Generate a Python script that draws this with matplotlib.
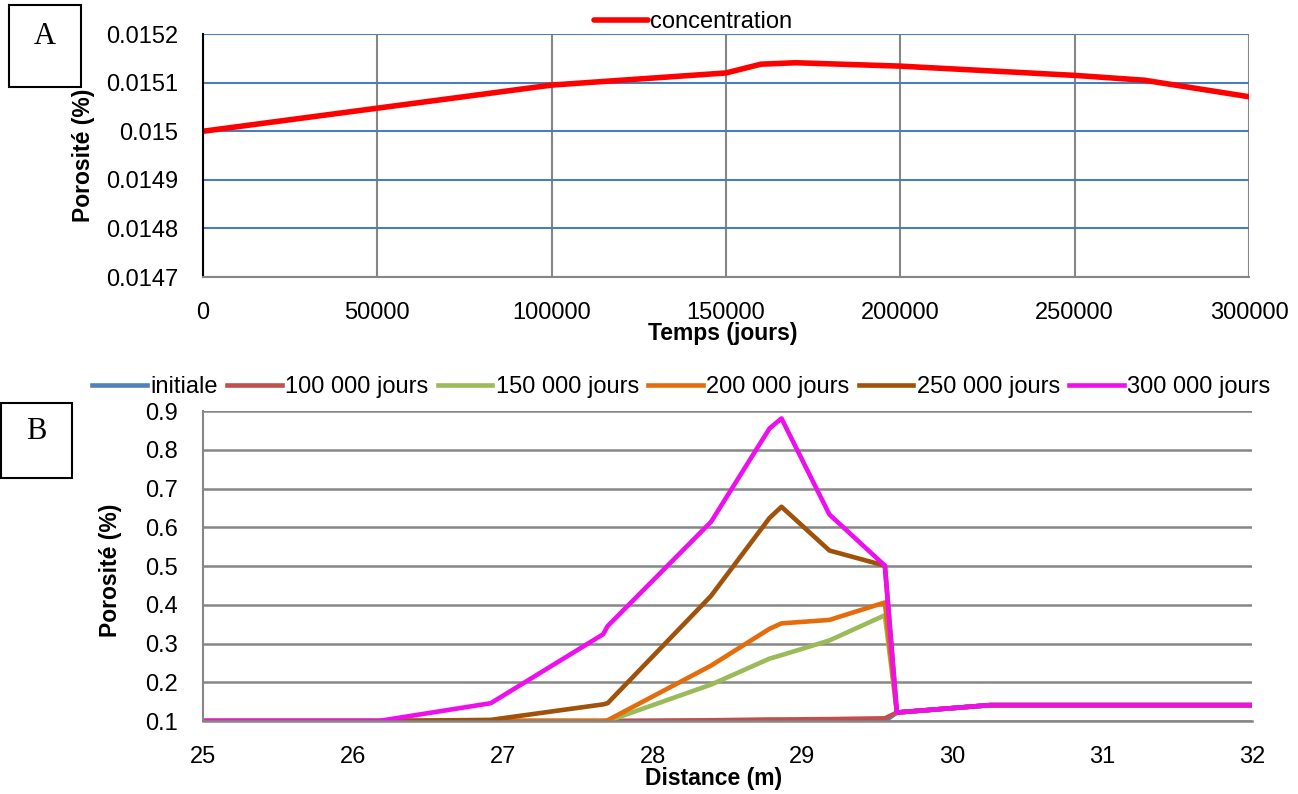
import numpy as np
import matplotlib
matplotlib.use('Agg')
import matplotlib.pyplot as plt
from matplotlib.ticker import FuncFormatter
from matplotlib.patches import Rectangle

plt.rcParams['font.family'] = ['Liberation Sans', 'DejaVu Sans']

# Panel A : porosity vs time
temps = [0, 100000, 150000, 160000, 170000, 200000, 250000, 270000, 300000]
porosite_a = [0.01500, 0.015095, 0.01512, 0.015138, 0.015141, 0.015134, 0.015115, 0.015105, 0.015071]

# Panel B : porosity profiles vs distance
distance = [25, 26.17, 26.92, 27.67, 27.70, 28.39, 28.78, 28.86, 29.18, 29.55, 29.63, 30.25, 32]
initiale = [0.1, 0.1, 0.1, 0.1, 0.1, 0.1, 0.1, 0.1, 0.1, 0.1, 0.122, 0.141, 0.141]
j100000 = [0.1, 0.1, 0.1, 0.1, 0.1, 0.102, 0.104, 0.104, 0.105, 0.107, 0.122, 0.141, 0.141]
j150000 = [0.1, 0.1, 0.1, 0.1, 0.1, 0.194, 0.261, 0.270, 0.308, 0.373, 0.122, 0.141, 0.141]
j200000 = [0.1, 0.1, 0.1, 0.1, 0.102, 0.243, 0.338, 0.352, 0.361, 0.406, 0.122, 0.141, 0.141]
j250000 = [0.1, 0.1, 0.103, 0.143, 0.146, 0.423, 0.624, 0.653, 0.540, 0.501, 0.122, 0.141, 0.141]
j300000 = [0.1, 0.1, 0.146, 0.324, 0.345, 0.614, 0.855, 0.881, 0.633, 0.501, 0.122, 0.141, 0.141]

series_b = [initiale, j100000, j150000, j200000, j250000, j300000]
labels_b = ['initiale', '100 000 jours', '150 000 jours', '200 000 jours', '250 000 jours', '300 000 jours']
colors_b = ['#4F81BD', '#C0504D', '#9BBB59', '#E46C0A', '#A0510A', '#EE0EEE']

fig = plt.figure(figsize=(12.98, 7.94), dpi=100)
fs = 16.5
grey = '#868686'

# ---- panel A
ax1 = fig.add_axes([0.1564, 0.6511, 0.8059, 0.3060])
ax1.plot(temps, porosite_a, color='#FF0000', lw=4, label='concentration', solid_capstyle='round')
ax1.set_xlim(0, 300000)
ax1.set_ylim(0.0147, 0.0152)
ax1.set_xticks(np.arange(0, 300001, 50000))
ax1.set_yticks(np.arange(0.0147, 0.01521, 0.0001))
ax1.yaxis.set_major_formatter(FuncFormatter(lambda v, p: f'{round(v, 4):g}'))
ax1.xaxis.set_major_formatter(FuncFormatter(lambda v, p: f'{int(round(v))}'))
ax1.grid(axis='y', color='#4A7EBB', lw=1.5)
ax1.grid(axis='x', color=grey, lw=1.5)
ax1.set_axisbelow(True)
for s in ['top', 'right']:
    ax1.spines[s].set_visible(False)
ax1.spines['left'].set_color('black')
ax1.spines['left'].set_linewidth(1.5)
ax1.spines['bottom'].set_color(grey)
ax1.spines['bottom'].set_linewidth(1.5)
ax1.tick_params(length=0, labelsize=17, pad=18)
ax1.set_xlabel('Temps (jours)', fontsize=fs, fontweight='bold')
ax1.xaxis.set_label_coords(0.497, -0.185)
ax1.set_ylabel('Porosité (%)', fontsize=fs, fontweight='bold')
ax1.yaxis.set_label_coords(-0.103, 0.5)
fig.legend(*ax1.get_legend_handles_labels(), loc='center', bbox_to_anchor=(0.534, 0.972),
           frameon=False, fontsize=17, handlelength=2.3, handletextpad=0.1, borderpad=0)

# ---- panel B
ax2 = fig.add_axes([0.1564, 0.0919, 0.8082, 0.3904])
for ys, lab, col in zip(series_b, labels_b, colors_b):
    ax2.plot(distance, ys, color=col, lw=3.3, label=lab)
ax2.set_xlim(25, 32)
ax2.set_ylim(0.1, 0.9)
ax2.set_xticks(np.arange(25, 33, 1))
ax2.set_yticks(np.arange(0.1, 0.91, 0.1))
ax2.yaxis.set_major_formatter(FuncFormatter(lambda v, p: f'{round(v, 1):g}'))
ax2.grid(axis='y', color=grey, lw=1.8)
ax2.set_axisbelow(True)
for s in ['top', 'right']:
    ax2.spines[s].set_visible(False)
ax2.spines['left'].set_color(grey)
ax2.spines['left'].set_linewidth(1.5)
ax2.spines['bottom'].set_color(grey)
ax2.spines['bottom'].set_linewidth(1.8)
ax2.tick_params(length=0, labelsize=17, pad=18)
ax2.set_xlabel('Distance (m)', fontsize=fs, fontweight='bold')
ax2.xaxis.set_label_coords(0.487, -0.148)
ax2.set_ylabel('Porosité (%)', fontsize=fs, fontweight='bold')
ax2.yaxis.set_label_coords(-0.077, 0.487)
fig.legend(*ax2.get_legend_handles_labels(), loc='center', bbox_to_anchor=(0.525, 0.5126),
           ncol=6, frameon=False, fontsize=17, handlelength=2.3, handletextpad=0.15,
           columnspacing=0.4, borderpad=0)

# ---- panel tags
for (x0, y0, w, h, txt) in [(9, 5, 72, 82, 'A'), (1, 403, 71, 75, 'B')]:
    fig.patches.append(Rectangle((x0 / 1298, 1 - (y0 + h) / 794), w / 1298, h / 794,
                                 transform=fig.transFigure, fill=False, ec='black', lw=1.5))
    fig.text((x0 + w / 2) / 1298, 1 - (y0 + h / 2.6) / 794, txt, ha='center', va='center',
             fontsize=22, family=['Liberation Serif', 'DejaVu Serif'])

fig.savefig('out.png', dpi=100)
